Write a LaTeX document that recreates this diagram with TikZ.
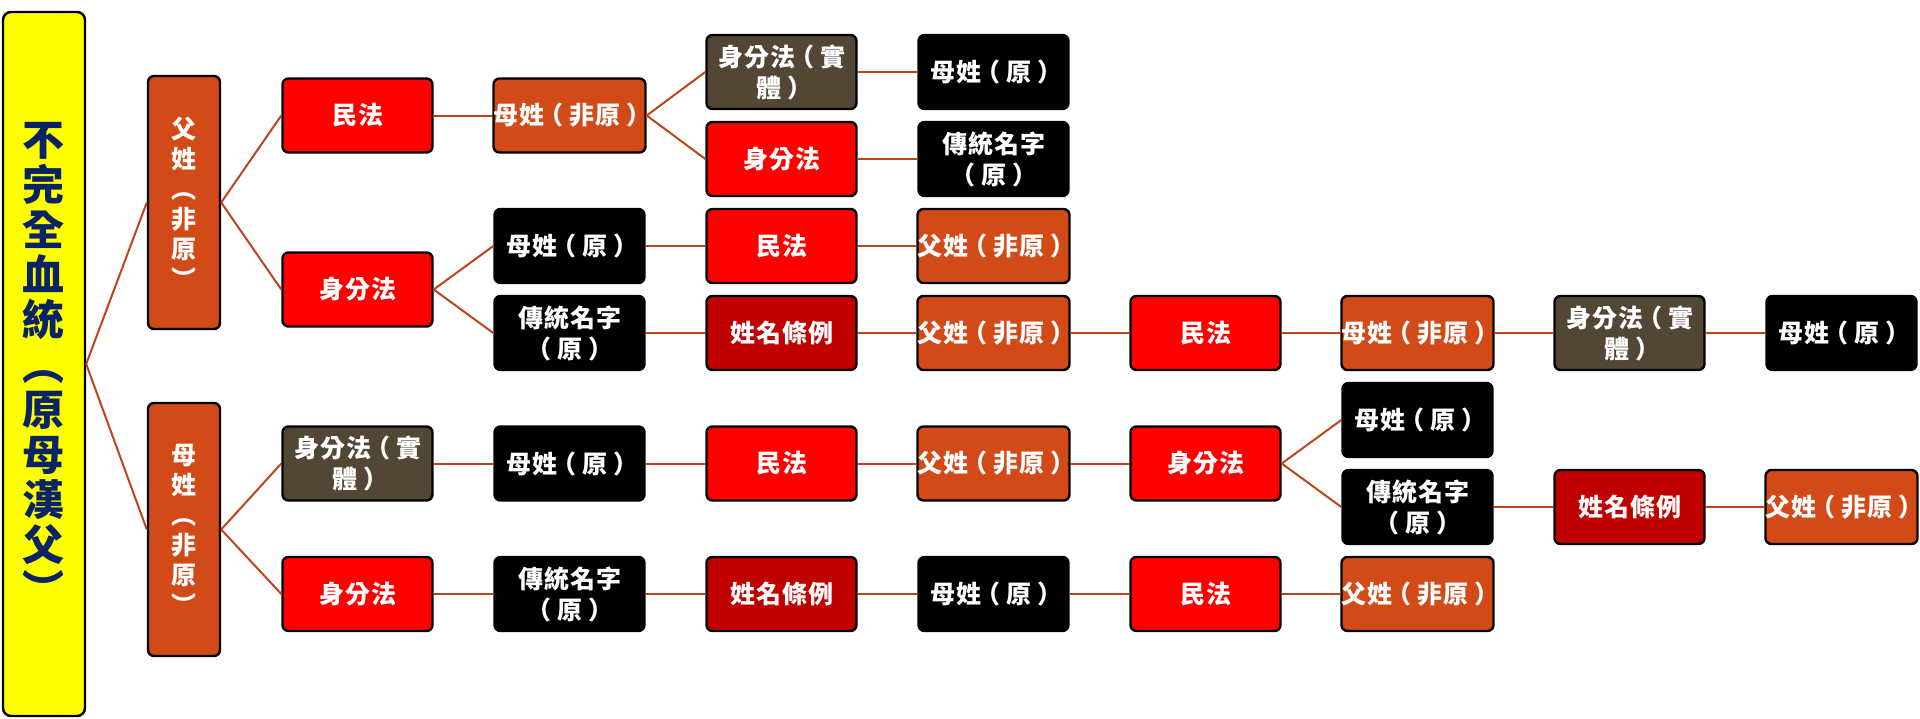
\documentclass[tikz,border=0pt]{standalone}
\usepackage{fontspec}
\setmainfont{Noto Sans CJK TC}[LetterSpace=4]
\newcommand\myLP{\kern-6pt（\kern6pt}
\newcommand\myRP{\kern6pt）\kern-6pt}
\definecolor{rootyellow}{RGB}{255,255,0}
\definecolor{rootnavy}{RGB}{10,35,100}
\definecolor{orangebox}{RGB}{209,74,24}
\definecolor{brownbox}{RGB}{82,70,52}
\definecolor{redbox}{RGB}{255,0,0}
\definecolor{darkredbox}{RGB}{192,0,0}
\definecolor{linkcol}{RGB}{190,68,28}
\tikzset{
  x=1pt, y=-1pt,
  base/.style={draw=black, line width=2.4pt, rounded corners=6pt, inner sep=0pt, align=center, text=white},
  box/.style={base, minimum width=150pt, minimum height=74pt, font=\fontsize{25}{31}\selectfont\bfseries},
  obox/.style={box, fill=orangebox},
  rbox/.style={box, fill=redbox},
  dbox/.style={box, fill=darkredbox},
  bbox/.style={box, fill=brownbox},
  kbox/.style={box, fill=black},
  lvbox/.style={base, fill=orangebox, minimum width=72pt, minimum height=253pt, font=\fontsize{25}{30}\selectfont\bfseries},
  rootbox/.style={base, fill=rootyellow, text=rootnavy, minimum width=82pt, minimum height=704pt, rounded corners=8pt, font=\fontsize{42}{45}\selectfont\bfseries},
  link/.style={draw=linkcol, line width=2pt}
}
\begin{document}
\begin{tikzpicture}
\useasboundingbox (0,0) rectangle (1920,718);
% root
\node[rootbox] (root) at (44,364) {不\\完\\全\\血\\統\\︵\\原\\母\\漢\\父\\︶};
% level 1
\node[lvbox] (F) at (184,202.5) {父\\姓\\︵\\非\\原\\︶};
\node[lvbox] (M) at (184,529.5) {母\\姓\\︵\\非\\原\\︶};
% upper branch
\node[rbox] (a2) at (357.5,115.5) {民法};
\node[obox] (a3) at (569.5,115.5) {母姓\myLP 非原\myRP};
\node[bbox] (a4) at (781.5,72) {身分法\myLP 實\\體\myRP};
\node[kbox] (a5) at (993.5,72) {母姓\myLP 原\myRP};
\node[rbox] (c4) at (781.5,159) {身分法};
\node[kbox] (c5) at (993.5,159) {傳統名字\\\myLP 原\myRP};
\node[rbox] (b2) at (357.5,289.5) {身分法};
\node[kbox] (d3) at (569.5,246) {母姓\myLP 原\myRP};
\node[rbox] (d4) at (781.5,246) {民法};
\node[obox] (d5) at (993.5,246) {父姓\myLP 非原\myRP};
\node[kbox] (e3) at (569.5,333) {傳統名字\\\myLP 原\myRP};
\node[dbox] (e4) at (781.5,333) {姓名條例};
\node[obox] (e5) at (993.5,333) {父姓\myLP 非原\myRP};
\node[rbox] (e6) at (1205.5,333) {民法};
\node[obox] (e7) at (1417.5,333) {母姓\myLP 非原\myRP};
\node[bbox] (e8) at (1629.5,333) {身分法\myLP 實\\體\myRP};
\node[kbox] (e9) at (1841.5,333) {母姓\myLP 原\myRP};
% lower branch
\node[bbox] (g2) at (357.5,463.5) {身分法\myLP 實\\體\myRP};
\node[kbox] (g3) at (569.5,463.5) {母姓\myLP 原\myRP};
\node[rbox] (g4) at (781.5,463.5) {民法};
\node[obox] (g5) at (993.5,463.5) {父姓\myLP 非原\myRP};
\node[rbox] (g6) at (1205.5,463.5) {身分法};
\node[kbox] (g7) at (1417.5,420) {母姓\myLP 原\myRP};
\node[kbox] (i7) at (1417.5,507) {傳統名字\\\myLP 原\myRP};
\node[dbox] (i8) at (1629.5,507) {姓名條例};
\node[obox] (i9) at (1841.5,507) {父姓\myLP 非原\myRP};
\node[rbox] (h2) at (357.5,594) {身分法};
\node[kbox] (h3) at (569.5,594) {傳統名字\\\myLP 原\myRP};
\node[dbox] (h4) at (781.5,594) {姓名條例};
\node[kbox] (h5) at (993.5,594) {母姓\myLP 原\myRP};
\node[rbox] (h6) at (1205.5,594) {民法};
\node[obox] (h7) at (1417.5,594) {父姓\myLP 非原\myRP};
% connectors
\path[link] (root.east) -- (F.west);
\path[link] (root.east) -- (M.west);
\path[link] (F.east) -- (a2.west);
\path[link] (F.east) -- (b2.west);
\path[link] (a2.east) -- (a3.west);
\path[link] (a3.east) -- (a4.west);
\path[link] (a3.east) -- (c4.west);
\path[link] (a4.east) -- (a5.west);
\path[link] (c4.east) -- (c5.west);
\path[link] (b2.east) -- (d3.west);
\path[link] (b2.east) -- (e3.west);
\path[link] (d3.east) -- (d4.west);
\path[link] (d4.east) -- (d5.west);
\path[link] (e3.east) -- (e4.west);
\path[link] (e4.east) -- (e5.west);
\path[link] (e5.east) -- (e6.west);
\path[link] (e6.east) -- (e7.west);
\path[link] (e7.east) -- (e8.west);
\path[link] (e8.east) -- (e9.west);
\path[link] (M.east) -- (g2.west);
\path[link] (M.east) -- (h2.west);
\path[link] (g2.east) -- (g3.west);
\path[link] (g3.east) -- (g4.west);
\path[link] (g4.east) -- (g5.west);
\path[link] (g5.east) -- (g6.west);
\path[link] (g6.east) -- (g7.west);
\path[link] (g6.east) -- (i7.west);
\path[link] (i7.east) -- (i8.west);
\path[link] (i8.east) -- (i9.west);
\path[link] (h2.east) -- (h3.west);
\path[link] (h3.east) -- (h4.west);
\path[link] (h4.east) -- (h5.west);
\path[link] (h5.east) -- (h6.west);
\path[link] (h6.east) -- (h7.west);
\end{tikzpicture}
\end{document}
